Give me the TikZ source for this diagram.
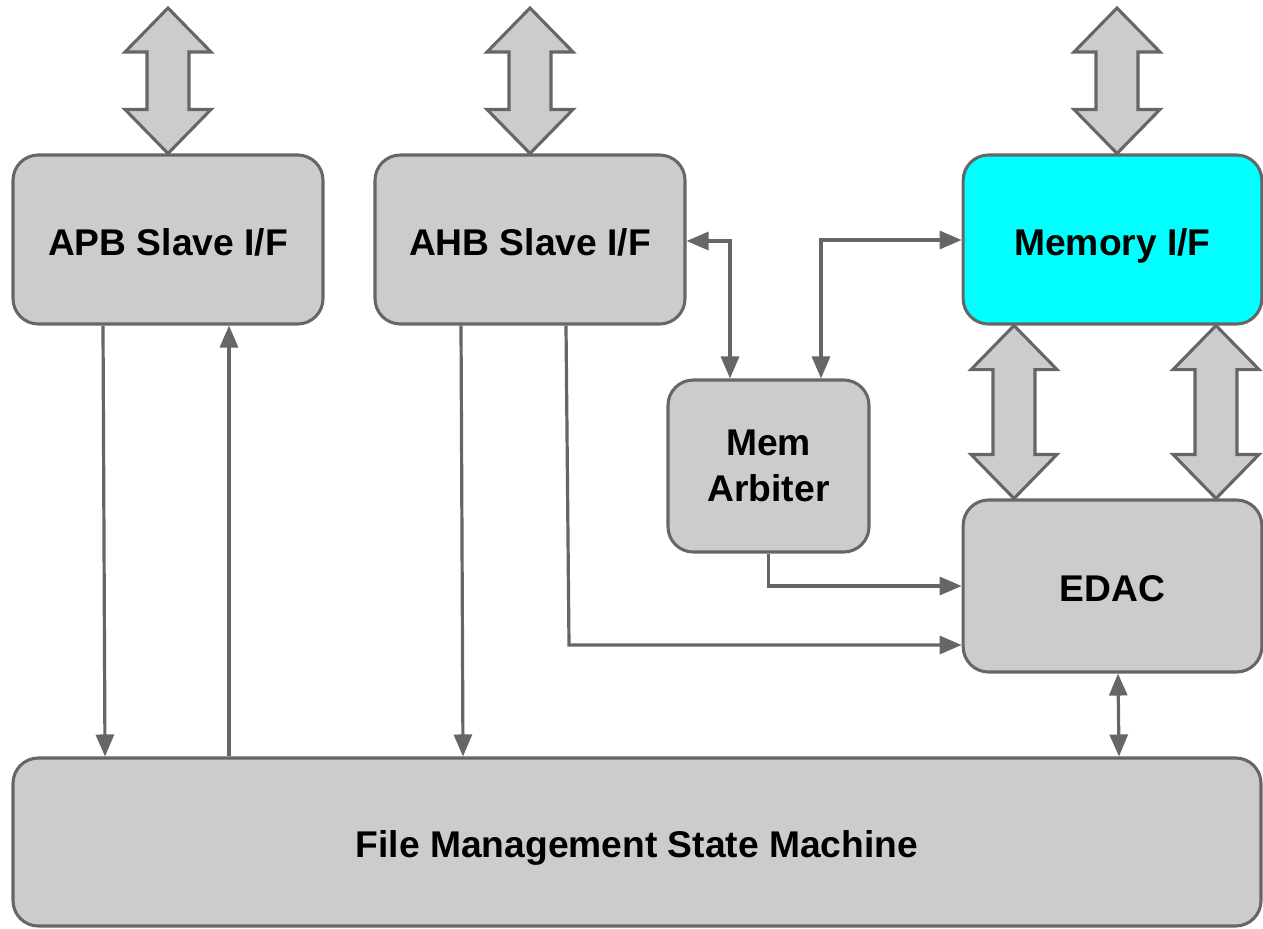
\documentclass[tikz,border=0pt]{standalone}
\usepackage{fontspec}
\setmainfont{Liberation Sans}
\usetikzlibrary{arrows.meta,calc}
\definecolor{boxfill}{HTML}{CCCCCC}
\definecolor{edge}{HTML}{666666}
\definecolor{memcyan}{HTML}{00FFFF}

% wide hollow double-headed bus arrow from #1 (upper tip) to #2 (lower tip)
\newcommand\busarrow[2]{%
  \draw[bus] let \p1=#1, \p2=#2 in
    (\x1,\y1) -- (\x1+32.25pt,\y1-33pt) -- (\x1+15.75pt,\y1-33pt)
    -- (\x1+15.75pt,\y2+33pt) -- (\x1+32.25pt,\y2+33pt) -- (\x1,\y2)
    -- (\x1-32.25pt,\y2+33pt) -- (\x1-15.75pt,\y2+33pt)
    -- (\x1-15.75pt,\y1-33pt) -- (\x1-32.25pt,\y1-33pt) -- cycle;}

\begin{document}
\begin{tikzpicture}[x=0.75pt,y=-0.75pt,
  block/.style={draw=edge, fill=boxfill, line width=2.3pt, rounded corners=19pt,
    font=\fontsize{27.9}{33}\selectfont\bfseries, align=center, inner sep=0pt,
    text height=29.8pt, text depth=6pt},
  bus/.style={draw=edge, fill=boxfill, line width=2.3pt, line join=miter},
  wire/.style={draw=edge, line width=2.4pt},
  tip/.style={-{Triangle[length=16.5pt,width=13.5pt]}},
  dtip/.style={{Triangle[length=16.5pt,width=13.5pt]}-{Triangle[length=16.5pt,width=13.5pt]}}]
\useasboundingbox (0,0) rectangle (1263,928);

% functional blocks
\node[block, minimum width=232.5pt, minimum height=126.75pt] (apb) at (168,239.5) {APB Slave I/F};
\node[block, minimum width=232.5pt, minimum height=126.75pt] (ahb) at (530,239.5) {AHB Slave I/F};
\node[block, fill=memcyan, minimum width=224pt, minimum height=126.75pt] (mem) at (1112.5,239.5) {Memory I/F};
\node[block, text height=, text depth=, inner ysep=0pt, minimum width=150.75pt, minimum height=129pt] (arb) at (768.5,466) {Mem\\[1.5pt]Arbiter};
\node[block, minimum width=224pt, minimum height=129pt] (edac) at (1112.5,586) {EDAC};
\node[block, minimum width=936pt, minimum height=126pt] (fsm) at (637,842) {File Management State Machine};

% external bus ports
\coordinate (apbport) at (168,8);
\coordinate (ahbport) at (530,8);
\coordinate (memport) at (1117,8);
\busarrow{(apbport)}{(apb.north)}
\busarrow{(ahbport)}{(ahb.north)}
\busarrow{(memport)}{(memport |- mem.north)}

% memory interface <-> EDAC
\busarrow{(mem.south -| 1014,0)}{(edac.north -| 1014,0)}
\busarrow{(mem.south -| 1216,0)}{(edac.north -| 1216,0)}

% control and data wires
\draw[wire,tip] (apb.south -| 103,0) -- (fsm.north -| 105,0);
\draw[wire,tip] (fsm.north -| 229,0) -- (apb.south -| 229,0);
\draw[wire,tip] (ahb.south -| 461,0) -- (fsm.north -| 463,0);
\draw[wire,tip] (ahb.south -| 566,0) -- (569,645) -- (edac.west |- 0,645);
\draw[wire,tip] (arb.south) |- (edac.west);
\draw[wire,dtip] (ahb.east |- 0,241) -| (arb.north -| 730,0);
\draw[wire,dtip] (arb.north -| 821,0) |- (mem.west |- 0,240);
\draw[wire,dtip] (edac.south -| 1118,0) -- (fsm.north -| 1119,0);
\end{tikzpicture}
\end{document}
